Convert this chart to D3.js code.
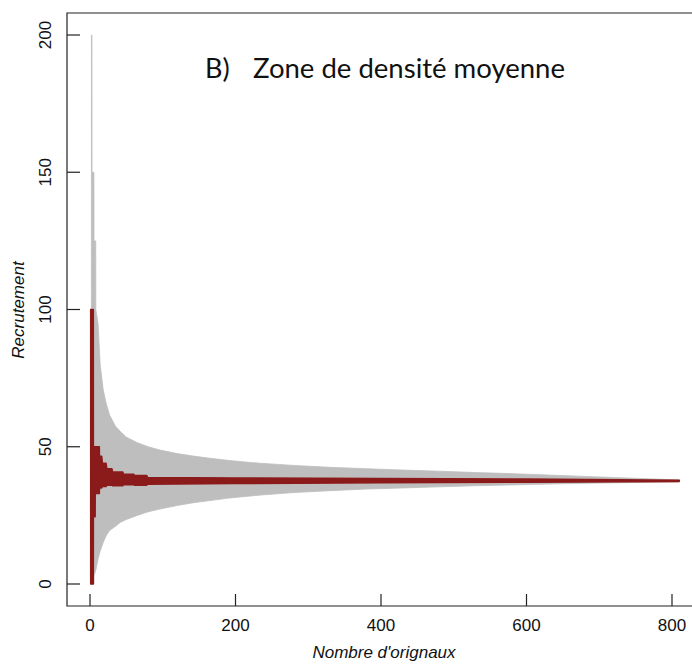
<!DOCTYPE html>
<html><head><meta charset="utf-8">
<script src="https://cdn.jsdelivr.net/npm/d3@7"></script>
<style>body{margin:0;background:#fff}svg{display:block}</style>
</head><body>
<svg id="c" width="692" height="664"></svg>
<script>
// Gray envelope (range of simulated recruitment)
const grayN   = [1, 1.9, 2.0, 2.7, 2.8, 5.4, 5.5, 7.9, 8.0, 11, 14, 18, 22, 27, 35, 42, 50, 65, 80, 96, 120, 142, 165, 188, 210, 234, 280, 330, 380, 430, 480, 530, 580, 630, 680, 730, 780, 810];
const grayHi  = [100, 100, 200, 200, 150, 150, 125, 125, 100, 95, 80, 71, 66, 61.5, 57.5, 55.5, 53.5, 51.5, 50, 48.8, 47.5, 46.6, 45.8, 45.1, 44.5, 44, 43.2, 42.5, 42, 41.5, 41.1, 40.6, 40.2, 39.7, 39.2, 38.7, 38.2, 37.9];
const grayLo  = [0, 0, 0, 0, 0, 0, 3, 5, 5, 9, 12, 15, 17.5, 19.5, 21, 22.5, 23.5, 25, 26.3, 27.3, 28.6, 29.6, 30.4, 31.2, 31.8, 32.4, 33.3, 34, 34.6, 35, 35.4, 35.8, 36.1, 36.4, 36.7, 36.9, 37.1, 37.2];
// Red series (observed recruitment), envelope of its oscillation
const redN    = [1, 4.5, 4.6, 7, 7.1, 12.8, 12.9, 16, 17, 22, 23, 30, 31, 45, 46, 60, 61, 78, 79, 200, 400, 600, 810];
const redHi   = [100, 100, 50, 50, 50, 50, 46.5, 46.5, 44, 44, 42, 42, 40.8, 40.8, 40, 40, 39.5, 39.5, 38.8, 38.6, 38.4, 38.2, 37.8];
const redLo   = [0, 0, 24.5, 24.5, 33, 33, 35, 35, 35.5, 35.5, 36, 36, 35.8, 35.8, 36.2, 36.2, 36, 36, 36.4, 36.6, 36.9, 37.1, 37.4];
const xTicks  = [0, 200, 400, 600, 800];
const yTicks  = [0, 50, 100, 150, 200];
const title   = "Zone de densité moyenne";

const svg = d3.select("#c");
const x = d3.scaleLinear().domain([0, 800]).range([90, 672]);
const y = d3.scaleLinear().domain([0, 200]).range([584, 35]);
const L = 67, T = 13, B = 606, R = 720;

const gArea = d3.area().x((d,i)=>x(grayN[i])).y0((d,i)=>y(grayLo[i])).y1((d,i)=>y(grayHi[i]));
svg.append("path").attr("d", gArea(grayN)).attr("fill", "#bebebe").attr("stroke", "#bebebe").attr("stroke-width", 0.8);

const rArea = d3.area().x((d,i)=>x(redN[i])).y0((d,i)=>y(redLo[i])).y1((d,i)=>y(redHi[i]));
svg.append("path").attr("d", rArea(redN)).attr("fill", "#8b1a1a").attr("stroke", "#8b1a1a").attr("stroke-width", 1.6).attr("stroke-linejoin","round");

// box
svg.append("path").attr("d", `M${R},${T}H${L}V${B}H${R}`).attr("fill","none").attr("stroke","#222").attr("stroke-width",1.2);

// y axis: ticks inward, labels rotated
const ya = svg.append("g");
yTicks.forEach(v=>{
  ya.append("line").attr("x1",L).attr("x2",L+13).attr("y1",y(v)).attr("y2",y(v)).attr("stroke","#222").attr("stroke-width",1.2);
  ya.append("text").attr("transform",`translate(51,${y(v)}) rotate(-90)`).attr("text-anchor","middle")
    .attr("font-family","Liberation Sans, Arial, sans-serif").attr("font-size",17).attr("fill","#111").text(v);
});
const xa = svg.append("g");
xTicks.forEach(v=>{
  xa.append("line").attr("x1",x(v)).attr("x2",x(v)).attr("y1",B).attr("y2",B-12).attr("stroke","#222").attr("stroke-width",1.2);
  xa.append("text").attr("x",x(v)).attr("y",631).attr("text-anchor","middle")
    .attr("font-family","Liberation Sans, Arial, sans-serif").attr("font-size",17).attr("fill","#111").text(v);
});
svg.append("text").attr("x",384).attr("y",658).attr("text-anchor","middle").attr("font-style","italic")
  .attr("font-family","Liberation Sans, Arial, sans-serif").attr("font-size",17).attr("fill","#111").text("Nombre d'orignaux");
svg.append("text").attr("transform","translate(24,310) rotate(-90)").attr("text-anchor","middle").attr("font-style","italic")
  .attr("font-family","Liberation Sans, Arial, sans-serif").attr("font-size",17).attr("fill","#111").text("Recrutement");

svg.append("text").attr("x",205).attr("y",78).attr("font-family","Lato, 'Open Sans', sans-serif").attr("font-size",27).attr("fill","#111").text("B)");
svg.append("text").attr("x",253).attr("y",78).attr("font-family","Lato, 'Open Sans', sans-serif").attr("font-size",27).attr("fill","#111")
  .attr("textLength",312).attr("lengthAdjust","spacingAndGlyphs").text(title);
</script>
</body></html>
